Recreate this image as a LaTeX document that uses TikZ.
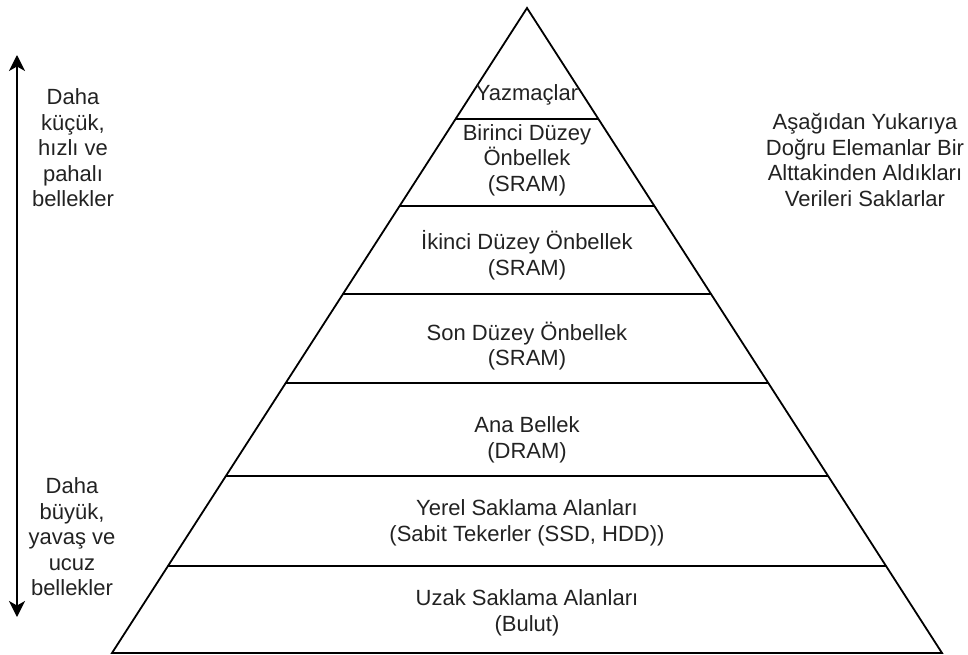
\documentclass[tikz,border=0pt]{standalone}
\usepackage{fontspec}
\setmainfont{Liberation Sans}
\usetikzlibrary{calc,arrows.meta}
\definecolor{txt}{RGB}{34,34,34}
\tikzset{
  edge/.style={line width=1.8pt, line join=miter},
  label/.style={text=txt, align=center, inner sep=0pt, font=\fontsize{22}{25.5}\selectfont},
  axis/.style={line width=1.8pt, {Stealth[length=16pt,width=16pt,inset=4.5pt]}-{Stealth[length=16pt,width=16pt,inset=4.5pt]}}
}
\begin{document}
\begin{tikzpicture}[x=1pt,y=-1pt]
  \useasboundingbox (0,0) rectangle (968,655);
  % pyramid outline
  \coordinate (apex) at (527,8);
  \coordinate (bl) at (112,653);
  \coordinate (br) at (942,653);
  \draw[edge] (apex) -- (bl) -- (br) -- cycle;
  % level separators
  \foreach \y in {119,206,294,383,476,566}
    \draw[edge] ($(apex)!{(\y-8)/645}!(bl)$) -- ($(apex)!{(\y-8)/645}!(br)$);
  % level labels
  \node[label] (l1) at (527,95) {Yazmaçlar};
  \node[label] (l2) at (527,160) {Birinci Düzey\\Önbellek\\(SRAM)};
  \node[label] (l3) at (527,255) {İkinci Düzey Önbellek\\(SRAM)};
  \node[label] (l4) at (527,346) {Son Düzey Önbellek\\(SRAM)};
  \node[label] (l5) at (527,440) {Ana Bellek\\(DRAM)};
  \node[label] (l6) at (527,523) {Yerel Saklama Alanları\\(Sabit Tekerler (SSD, HDD))};
  \node[label] (l7) at (527,613) {Uzak Saklama Alanları\\(Bulut)};
  % side notes
  \node[label] (top) at (73,148) {Daha\\küçük,\\hızlı ve\\pahalı\\bellekler};
  \node[label] (bottom) at (72,537) {Daha\\büyük,\\yavaş ve\\ucuz\\bellekler};
  \node[label] (note) at (865,160) {Aşağıdan Yukarıya\\Doğru Elemanlar Bir\\Alttakinden Aldıkları\\Verileri Saklarlar};
  % size / speed / cost axis
  \coordinate (atop) at (17,55);
  \coordinate (abot) at (17,617);
  \draw[axis] (atop) -- (abot);
\end{tikzpicture}
\end{document}
